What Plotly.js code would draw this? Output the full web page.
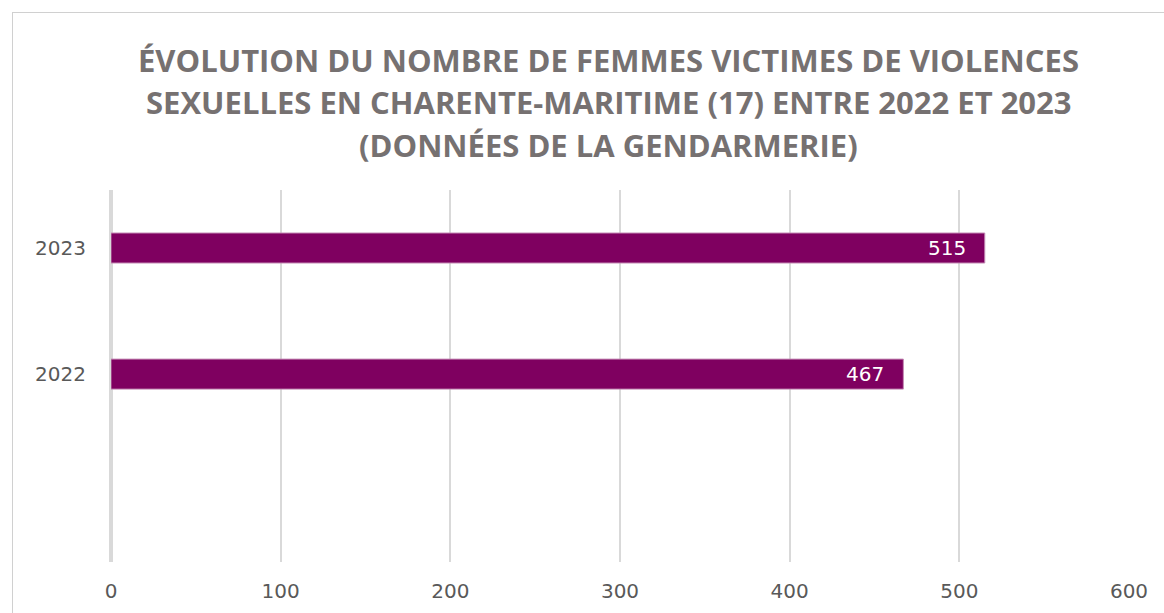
<!DOCTYPE html>
<html>
<head>
<meta charset="utf-8">
<script src="https://cdn.plot.ly/plotly-3.0.1.min.js"></script>
<style>
html,body{margin:0;padding:0;background:#fff;overflow:hidden;}
#wrap{position:relative;width:1164px;height:613px;}
#chart{position:absolute;left:0;top:0;width:1164px;height:613px;}
#frame{position:absolute;left:12px;top:12px;width:1200px;height:700px;border:1px solid #d0d0d0;pointer-events:none;box-sizing:border-box;}
</style>
</head>
<body>
<div id="wrap"><div id="chart"></div><div id="frame"></div></div>
<script>
var years = ["2022", "2023"];
var victims = [467, 515];
var titleLines = [
  "ÉVOLUTION DU NOMBRE DE FEMMES VICTIMES DE VIOLENCES",
  "SEXUELLES EN CHARENTE-MARITIME (17) ENTRE 2022 ET 2023",
  "(DONNÉES DE LA GENDARMERIE)"
];
var xTicks = [0, 100, 200, 300, 400, 500, 600];

var trace = {
  type: "bar",
  orientation: "h",
  y: years,
  x: victims,
  width: 0.238,
  marker: {color: "#7f0060", line: {color: "#c48ab4", width: 1}},
  hoverinfo: "x+y"
};

var annotations = [];
titleLines.forEach(function(t, i){
  annotations.push({
    text: "<b>" + t + "</b>", xref: "paper", yref: "paper",
    x: (609 - 111) / 1019, y: 1 + (190 - (60 + 42.5 * i)) / 372,
    xanchor: "center", yanchor: "middle", showarrow: false,
    font: {family: "Open Sans", size: 31, color: "#767171"}
  });
});
years.forEach(function(y, i){
  annotations.push({
    text: String(victims[i]), x: victims[i], y: i, xref: "x", yref: "y",
    xanchor: "right", yanchor: "middle", xshift: -17, showarrow: false,
    font: {family: "DejaVu Sans", size: 20, color: "#ffffff"}
  });
});

var layout = {
  width: 1164, height: 613,
  margin: {l: 111, r: 35, t: 190, b: 51, pad: 0},
  paper_bgcolor: "rgba(0,0,0,0)", plot_bgcolor: "#ffffff",
  showlegend: false,
  font: {family: "DejaVu Sans", size: 20, color: "#595959"},
  xaxis: {
    range: [0, 600], tickvals: xTicks, ticktext: xTicks.map(String),
    showgrid: true, gridcolor: "#d9d9d9", gridwidth: 2,
    zeroline: true, zerolinecolor: "#d9d9d9", zerolinewidth: 4,
    showline: false, ticks: "", ticklabelstandoff: 15,
    tickfont: {family: "DejaVu Sans", size: 20, color: "#595959"}
  },
  yaxis: {
    type: "category", categoryorder: "array", categoryarray: years,
    range: [-1.49, 1.46], showgrid: false, zeroline: false, showline: false,
    ticks: "", ticklabelstandoff: 24,
    tickfont: {family: "DejaVu Sans", size: 20, color: "#595959"}
  },
  annotations: annotations
};

Plotly.newPlot("chart", [trace], layout, {displayModeBar: false, staticPlot: true});
</script>
</body>
</html>
